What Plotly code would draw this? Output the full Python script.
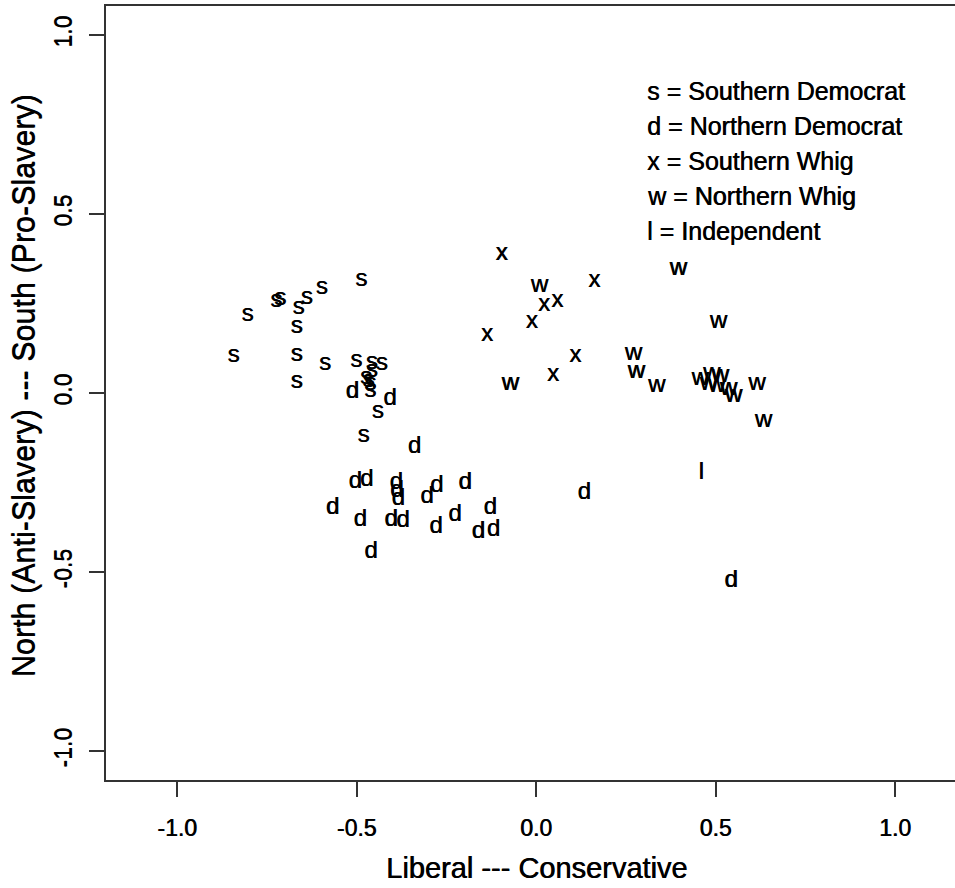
import plotly.graph_objects as go

# ---- data ----
s_x = [-0.843, -0.804, -0.724, -0.713, -0.662, -0.639, -0.597, -0.487, -0.667, -0.667,
       -0.667, -0.588, -0.501, -0.458, -0.430, -0.458, -0.467, -0.474, -0.462, -0.462,
       -0.441, -0.481]
s_y = [0.103, 0.219, 0.257, 0.262, 0.238, 0.266, 0.294, 0.315, 0.184, 0.106,
       0.031, 0.080, 0.089, 0.084, 0.080, 0.061, 0.033, 0.042, 0.025, 0.005,
       -0.052, -0.120]

d_x = [-0.512, -0.407, -0.339, -0.504, -0.472, -0.390, -0.388, -0.384, -0.304, -0.277,
       -0.198, -0.567, -0.490, -0.404, -0.371, -0.279, -0.226, -0.128, -0.161, -0.119,
       -0.460, 0.134, 0.543]
d_y = [0.003, -0.018, -0.150, -0.248, -0.244, -0.251, -0.274, -0.297, -0.290, -0.260,
       -0.251, -0.321, -0.356, -0.356, -0.358, -0.375, -0.342, -0.321, -0.388, -0.384,
       -0.444, -0.280, -0.525]

x_x = [-0.096, 0.162, 0.022, 0.059, -0.012, -0.137, 0.109, 0.047]
x_y = [0.387, 0.313, 0.246, 0.257, 0.199, 0.162, 0.103, 0.050]

w_x = [0.009, -0.072, 0.396, 0.508, 0.271, 0.279, 0.336, 0.457, 0.489, 0.513,
       0.480, 0.503, 0.536, 0.550, 0.615, 0.633]
w_y = [0.299, 0.024, 0.345, 0.199, 0.108, 0.059, 0.019, 0.038, 0.052, 0.047,
       0.024, 0.019, 0.010, -0.009, 0.024, -0.078]

l_x = [0.460]
l_y = [-0.224]

groups = [("s", s_x, s_y), ("d", d_x, d_y), ("x", x_x, x_y), ("w", w_x, w_y), ("l", l_x, l_y)]

legend_lines = ["s = Southern Democrat", "d = Northern Democrat", "x = Southern Whig",
                "w = Northern Whig", "l = Independent"]

x_ticks = [-1.0, -0.5, 0.0, 0.5, 1.0]
x_tick_text = ["-1.0", "-0.5", "0.0", "0.5", "1.0"]
y_ticks = [-1.0, -0.5, 0.0, 0.5, 1.0]
y_tick_text = ["-1.0", "-0.5", "0.0", "0.5", "1.0"]

x_title = "Liberal --- Conservative"
y_title = "North (Anti-Slavery) --- South (Pro-Slavery)"

FONT = "Liberation Sans, Arial, sans-serif"
SHADOW = "0.6px 0px 0px black"

fig = go.Figure()
for letter, xs, ys in groups:
    fig.add_trace(go.Scatter(
        x=xs, y=ys, mode="text", text=[letter] * len(xs),
        textposition="middle center",
        textfont=dict(family=FONT, size=24, color="black", shadow=SHADOW),
        showlegend=False, hoverinfo="skip"))

W, H = 955, 888
ml, mr, mt, mb = 106, 0, 6, 108
pw, ph = W - ml - mr, H - mt - mb

def px_x(p):
    return (p - ml) / pw

def px_y(p):
    return (H - mb - p) / ph

annotations = []
for i, line in enumerate(legend_lines):
    annotations.append(dict(
        text=line, x=px_x(645), y=px_y(91 + 35 * i), xref="paper", yref="paper",
        xanchor="left", yanchor="middle", showarrow=False,
        font=dict(family=FONT, size=25, color="black", shadow=SHADOW)))

annotations.append(dict(
    text=x_title, x=px_x(536), y=px_y(868), xref="paper", yref="paper",
    xanchor="center", yanchor="middle", showarrow=False,
    font=dict(family=FONT, size=29, color="black", shadow=SHADOW)))
annotations.append(dict(
    text=y_title, x=px_x(25), y=px_y(386), xref="paper", yref="paper",
    xanchor="center", yanchor="middle", showarrow=False, textangle=-90,
    font=dict(family=FONT, size=30.5, color="black", shadow="0px -0.6px 0px black")))

fig.update_layout(
    width=W, height=H,
    margin=dict(l=ml, r=mr, t=mt, b=mb, pad=0),
    paper_bgcolor="white", plot_bgcolor="white",
    annotations=annotations,
    xaxis=dict(range=[-1.198, 1.167], tickvals=x_ticks, ticktext=x_tick_text,
               showgrid=False, zeroline=False, showline=True, linecolor="#333333",
               linewidth=1.5, mirror=True, ticks="outside", ticklen=15,
               tickcolor="#333333", tickwidth=1.5, ticklabelstandoff=12,
               tickfont=dict(family=FONT, size=23, color="black", shadow=SHADOW)),
    yaxis=dict(range=[-1.081, 1.081], tickvals=y_ticks, ticktext=y_tick_text,
               showgrid=False, zeroline=False, showline=True, linecolor="#333333",
               linewidth=1.5, ticks="outside", ticklen=15, tickangle=-90,
               tickcolor="#333333", tickwidth=1.5, ticklabelstandoff=8,
               tickfont=dict(family=FONT, size=23, color="black",
                             shadow="0px -0.6px 0px black")),
)

fig.write_html("out.html")
